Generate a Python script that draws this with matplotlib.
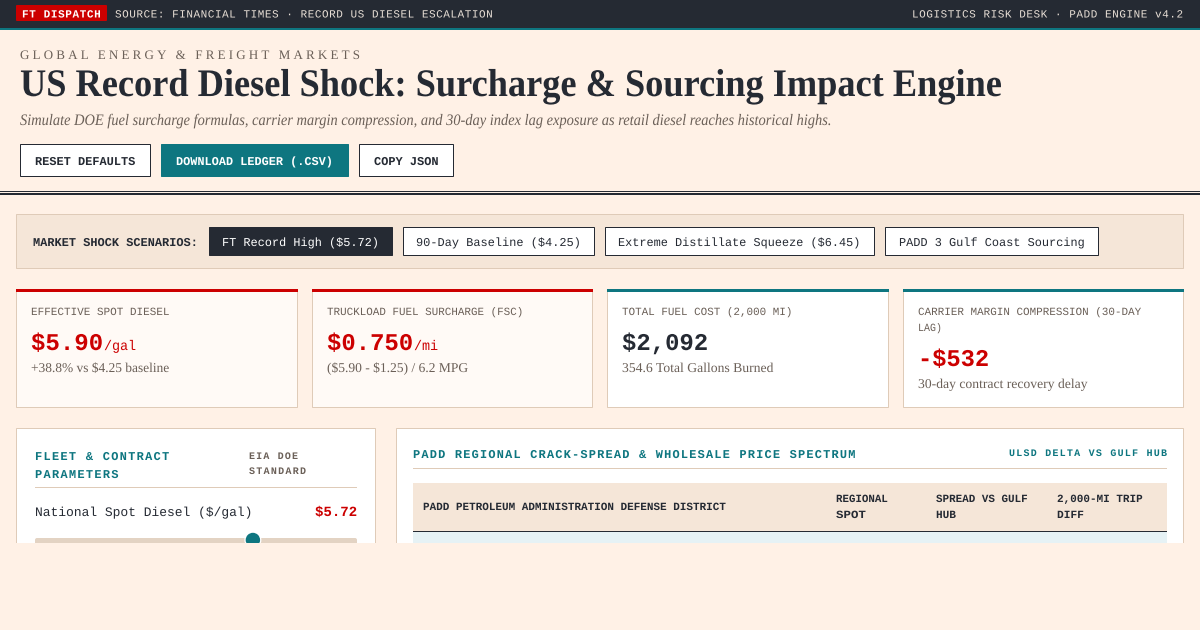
import matplotlib
matplotlib.use("Agg")
import numpy as np
import matplotlib.pyplot as plt
from matplotlib.patches import Rectangle, FancyBboxPatch, Circle
from matplotlib.patheffects import AbstractPathEffect
from matplotlib.path import Path
from matplotlib.transforms import Affine2D

# ---- content ----
top_badge = "FT DISPATCH"
top_source = "SOURCE: FINANCIAL TIMES · RECORD US DIESEL ESCALATION"
top_right = "LOGISTICS RISK DESK · PADD ENGINE v4.2"
eyebrow = "GLOBAL ENERGY & FREIGHT MARKETS"
title = "US Record Diesel Shock: Surcharge & Sourcing Impact Engine"
subtitle = "Simulate DOE fuel surcharge formulas, carrier margin compression, and 30-day index lag exposure as retail diesel reaches historical highs."
buttons = ["RESET DEFAULTS", "DOWNLOAD LEDGER (.CSV)", "COPY JSON"]
scenario_label = "MARKET SHOCK SCENARIOS:"
scenarios = ["FT Record High ($5.72)", "90-Day Baseline ($4.25)",
             "Extreme Distillate Squeeze ($6.45)", "PADD 3 Gulf Coast Sourcing"]
kpi_labels = [["EFFECTIVE SPOT DIESEL"], ["TRUCKLOAD FUEL SURCHARGE (FSC)"],
              ["TOTAL FUEL COST (2,000 MI)"], ["CARRIER MARGIN COMPRESSION (30-DAY", "LAG)"]]
kpi_values = ["$5.90", "$0.750", "$2,092", "-$532"]
kpi_units = ["/gal", "/mi", "", ""]
kpi_notes = ["+38.8% vs $4.25 baseline", "($5.90 - $1.25) / 6.2 MPG",
             "354.6 Total Gallons Burned", "30-day contract recovery delay"]
spot_price = 5.72
slider_min, slider_max = 3.00, 7.00
table_headers = [["PADD PETROLEUM ADMINISTRATION DEFENSE DISTRICT"], ["REGIONAL", "SPOT"],
                 ["SPREAD VS GULF", "HUB"], ["2,000-MI TRIP", "DIFF"]]

# ---- palette ----
BG = "#fff1e6"; INK = "#252a33"; TEAL = "#0e7680"; RED = "#cc0000"
SAND = "#f5e6d8"; EDGE = "#dfcbb8"; MUTE = "#6b6058"; WARM = "#fffaf6"
MONO = "Liberation Mono"; SERIF = "Liberation Serif"

fig = plt.figure(figsize=(12, 6.3), dpi=100, facecolor=BG)
ax = fig.add_axes([0, 0, 1, 1])
ax.set_xlim(0, 1200); ax.set_ylim(630, 0); ax.axis("off")
renderer = fig.canvas.get_renderer()


class StretchX(AbstractPathEffect):
    """Horizontal scaling of a text about its left edge."""
    def __init__(self, k, x0):
        super().__init__()
        self.k, self.x0 = k, x0

    def draw_path(self, rend, gc, tpath, affine, rgbFace=None):
        a = affine + Affine2D().translate(-self.x0, 0).scale(self.k, 1).translate(self.x0, 0)
        rend.draw_path(gc, tpath, a, rgbFace)


class Track(AbstractPathEffect):
    """CSS-like letter spacing: shifts each glyph's outline by its character index."""
    def __init__(self, s, sp):
        super().__init__()
        self.s, self.sp = s, sp

    def draw_path(self, rend, gc, tpath, affine, rgbFace=None):
        v = np.array(tpath.vertices, float)
        c = np.array(tpath.codes)
        starts = list(np.where(c == Path.MOVETO)[0]) + [len(c)]
        spans = []
        for a, b in zip(starts[:-1], starts[1:]):
            m = c[a:b] != Path.CLOSEPOLY
            spans.append((v[a:b][m, 0].min(), v[a:b][m, 0].max(), a, b))
        spans.sort()
        clusters, right = [], -np.inf
        for sp_ in spans:
            if sp_[0] >= right - 1e-6 or not clusters:
                clusters.append([])
            clusters[-1].append(sp_)
            right = max(right, sp_[1]) if len(clusters[-1]) > 1 else sp_[1]
        idx = [i for i, ch in enumerate(self.s) if ch != " "]
        if len(idx) != len(clusters):
            idx = list(np.linspace(0, len(self.s) - 1, len(clusters)))
        unit = self.sp / affine.get_matrix()[0, 0]
        for cl, i in zip(clusters, idx):
            for _, _, a, b in cl:
                v[a:b, 0] += i * unit
        rend.draw_path(gc, Path(v, c), affine, rgbFace)


def T(s, x0, x1, y, px, color=INK, font=MONO, weight="normal", style="normal", track=False):
    t = ax.text(x0, y, s, fontsize=px * 0.72, color=color, family=font, weight=weight,
                style=style, va="baseline", ha="left", zorder=5, parse_math=False)
    w = t.get_window_extent(renderer).width
    if track:
        t.set_path_effects([Track(s, (x1 - x0 - w) / (len(s) - 1))])
    else:
        t.set_path_effects([StretchX((x1 - x0) / w, x0)])
    return t


def R(x0, y0, x1, y1, fc, ec="none", lw=0.0, z=1):
    ax.add_patch(Rectangle((x0, y0), x1 - x0, y1 - y0, facecolor=fc, edgecolor=ec, linewidth=lw, zorder=z))


EW = 0.72
# top bar
R(0, 0, 1200, 28, INK)
R(0, 28, 1200, 30, TEAL)
ax.add_patch(FancyBboxPatch((16, 5), 91, 16, boxstyle="round,pad=0,rounding_size=1", fc=RED, ec="none", zorder=2))
T(top_badge, 22, 101, 17.5, 11, "white", weight="bold", track=True)
T(top_source, 115, 494, 17.5, 11, "#e8dfd6", track=True)
T(top_right, 912, 1184, 17.5, 11, "#e8dfd6", track=True)

# header
T(eyebrow, 20, 361, 59, 13, MUTE, SERIF, track=True)
T(title, 20, 1002, 96, 39, INK, SERIF, "bold")
T(subtitle, 20, 833, 125, 16, MUTE, SERIF, style="italic")
for (x0, x1, tx0, tx1), lab, dark in zip(
        [(20, 151, 35, 136), (161, 349, 176, 334), (359, 454, 374, 439)], buttons, [0, 1, 0]):
    R(x0, 144, x1 - 1, 176, TEAL if dark else "white", TEAL if dark else INK, EW)
    T(lab, tx0, tx1, 165, 12, "white" if dark else INK, weight="bold")
R(0, 191, 1200, 192.2, INK)
R(0, 193.4, 1200, 194.6, INK)

# scenarios
R(16, 214, 1183, 268, SAND, EDGE, EW)
T(scenario_label, 33, 199, 246, 12, INK, weight="bold")
for i, ((x0, x1, tx0, tx1), lab) in enumerate(zip(
        [(209, 393, 222, 380), (403, 595, 416, 582), (605, 875, 618, 862), (885, 1099, 899, 1086)], scenarios)):
    R(x0, 227, x1 - 1, 255, INK if i == 0 else "white", INK, EW, 2)
    T(lab, tx0, tx1, 246, 12, "white" if i == 0 else INK)

# KPI cards
cards = [(16, 298), (312, 593), (607, 889), (903, 1184)]
label_ends = [[170], [524], [793], [1142, 942]]
value_ends = [103, 413, 708, 989]
unit_ends = [136, 438, None, None]
note_ends = [170, 468, 774, 1088]
accent = [RED, RED, TEAL, TEAL]
val_col = [RED, RED, INK, RED]
for i, (x0, x1) in enumerate(cards):
    R(x0, 289, x1 - 1, 407, WARM if i < 2 else "white", EDGE, EW)
    R(x0, 289, x1, 292, accent[i], z=2)
    tx = x0 + 15
    y = 315
    for ln, end in zip(kpi_labels[i], label_ends[i]):
        T(ln, tx, end, y, 11, MUTE)
        y += 16
    dy = 16 * (len(kpi_labels[i]) - 1)
    T(kpi_values[i], tx, value_ends[i], 350 + dy, 24, val_col[i], weight="bold")
    if kpi_units[i]:
        T(kpi_units[i], value_ends[i] + 1, unit_ends[i], 350 + dy, 14, RED)
    T(kpi_notes[i], tx, note_ends[i], 372 + dy, 13.5, MUTE, SERIF)

# lower-left panel
R(16, 428, 375, 560, "white", EDGE, EW)
T("FLEET & CONTRACT", 35, 170, 460, 12, TEAL, weight="bold", track=True)
T("PARAMETERS", 35, 119, 478, 12, TEAL, weight="bold", track=True)
T("EIA DOE", 249, 298, 459, 10, MUTE, weight="bold", track=True)
T("STANDARD", 249, 306, 474, 10, MUTE, weight="bold", track=True)
R(35, 487, 357, 488, EDGE, z=2)
T("National Spot Diesel ($/gal)", 35, 251, 516, 13, INK)
T(f"${spot_price:.2f}", 315, 357, 516, 14, RED, weight="bold")
ax.add_patch(FancyBboxPatch((35, 538), 322, 10, boxstyle="round,pad=0,rounding_size=2",
                            fc="#e3d3c3", ec="none", zorder=2))
frac = (spot_price - slider_min) / (slider_max - slider_min)
thumb_x = 38 + 316 * frac
ax.add_patch(Circle((thumb_x, 540), 8.5, fc="white", ec="none", zorder=3))
ax.add_patch(Circle((thumb_x, 540), 7.2, fc=TEAL, ec="none", zorder=4))

# lower-right panel
R(396, 428, 1183, 560, "white", EDGE, EW)
T("PADD REGIONAL CRACK-SPREAD & WHOLESALE PRICE SPECTRUM", 413, 858, 458, 12, TEAL, weight="bold", track=True)
T("ULSD DELTA VS GULF HUB", 1009, 1167, 456, 10, TEAL, weight="bold", track=True)
R(413, 468, 1167, 469, EDGE, z=2)
R(413, 483, 1167, 531, SAND, z=2)
R(413, 532, 1167, 560, "#e6f2f5", z=2)
R(413, 531, 1167, 532.2, INK, z=3)
T(table_headers[0][0], 423, 727, 510, 11, INK, weight="bold")
for hdr, x0, ends in zip(table_headers[1:], [836, 936, 1057], [(888, 866), (1028, 956), (1143, 1084)]):
    T(hdr[0], x0, ends[0], 502, 11, INK, weight="bold")
    T(hdr[1], x0, ends[1], 518, 11, INK, weight="bold")

# page clip below the fold
R(0, 543, 1200, 630, BG, z=4.5)

fig.savefig("out.png", dpi=100, facecolor=BG)
